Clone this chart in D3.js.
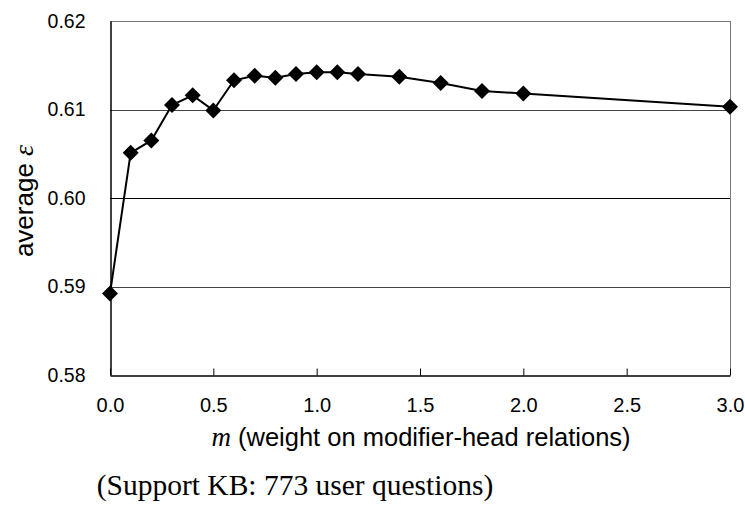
<!DOCTYPE html>
<html>
<head>
<meta charset="utf-8">
<script src="https://cdn.jsdelivr.net/npm/d3@7"></script>
<style>
  html, body { margin: 0; padding: 0; background: #fff; }
  svg { display: block; }
</style>
</head>
<body>
<script>
const mValues = [0.0, 0.1, 0.2, 0.3, 0.4, 0.5, 0.6, 0.7, 0.8, 0.9, 1.0, 1.1, 1.2, 1.4, 1.6, 1.8, 2.0, 3.0];
const avgEps  = [0.5892, 0.6051, 0.6065, 0.6105, 0.6116, 0.6099, 0.6133, 0.6138, 0.6136, 0.6140, 0.6142, 0.6142, 0.6140, 0.6137, 0.6130, 0.6121, 0.6118, 0.6103];
const xTicks = [0.0, 0.5, 1.0, 1.5, 2.0, 2.5, 3.0];
const yTicks = [0.58, 0.59, 0.60, 0.61, 0.62];

const W = 745, H = 508;
const L = 110, R = 730, T = 21, B = 375;

const svg = d3.select("body").append("svg").attr("width", W).attr("height", H);

const x = d3.scaleLinear().domain([0, 3]).range([L, R]);
const y = d3.scaleLinear().domain([0.58, 0.62]).range([B, T]);

// gridlines
svg.append("g").selectAll("line").data(yTicks.slice(1, 4)).join("line")
  .attr("x1", L).attr("x2", R)
  .attr("y1", d => Math.round(y(d)) + 0.5).attr("y2", d => Math.round(y(d)) + 0.5)
  .attr("stroke", d => Math.abs(d - 0.60) < 1e-9 ? "#000" : "#444").attr("stroke-width", 1);

// frame: top & right
svg.append("line").attr("x1", L).attr("x2", R).attr("y1", T + 0.5).attr("y2", T + 0.5).attr("stroke", "#777");
svg.append("line").attr("x1", R + 0.5).attr("x2", R + 0.5).attr("y1", T).attr("y2", B).attr("stroke", "#777");

// x axis
const xAxis = d3.axisBottom(x).tickValues(xTicks).tickSizeInner(-7).tickSizeOuter(0).tickFormat(d3.format(".1f")).tickPadding(22);
const gx = svg.append("g").attr("transform", `translate(0,${B + 0.5})`).call(xAxis);
gx.select(".domain").attr("stroke", "#000").attr("stroke-width", 1.5);
gx.selectAll(".tick line").attr("stroke", "#000");
gx.selectAll("text").attr("font-family", "Liberation Sans, Arial, sans-serif").attr("font-size", 20).attr("fill", "#000");

// y axis
const yAxis = d3.axisLeft(y).tickValues(yTicks).tickSize(0).tickFormat(d3.format(".2f")).tickPadding(25);
const gy = svg.append("g").attr("transform", `translate(${L + 0.5},0)`).call(yAxis);
gy.select(".domain").attr("stroke", "#000").attr("stroke-width", 1.5);
gy.selectAll("text").attr("font-family", "Liberation Sans, Arial, sans-serif").attr("font-size", 19.5).attr("fill", "#000");

// line
const pts = mValues.map((m, i) => [m, avgEps[i]]);
svg.append("path").datum(pts)
  .attr("d", d3.line().x(d => x(d[0])).y(d => y(d[1])))
  .attr("fill", "none").attr("stroke", "#000").attr("stroke-width", 2);

// diamond markers
const sym = d3.symbol().type(d3.symbolSquare).size(128);
svg.append("g").selectAll("path").data(pts).join("path")
  .attr("d", sym)
  .attr("transform", d => `translate(${x(d[0])},${y(d[1])}) rotate(45)`)
  .attr("fill", "#000");

// y label
const yl = svg.append("text")
  .attr("transform", `translate(33,${(T + B) / 2 + 3}) rotate(-90)`)
  .attr("text-anchor", "middle")
  .attr("font-family", "Liberation Sans, Arial, sans-serif").attr("font-size", 26).attr("fill", "#000");
yl.append("tspan").text("average ");
yl.append("tspan").attr("font-style", "italic").attr("font-family", "Liberation Serif, serif").attr("font-size", 28).text("ε");

// x label
const xl = svg.append("text")
  .attr("x", (L + R) / 2 + 1).attr("y", 446)
  .attr("text-anchor", "middle")
  .attr("font-family", "Liberation Sans, Arial, sans-serif").attr("font-size", 25.5).attr("fill", "#000");
xl.append("tspan").attr("font-style", "italic").attr("font-family", "Liberation Serif, serif").attr("font-size", 27).text("m");
xl.append("tspan").text("  (weight on modifier-head relations)");

// caption
svg.append("text")
  .attr("x", 295).attr("y", 495)
  .attr("text-anchor", "middle")
  .attr("font-family", "Liberation Serif, 'DejaVu Serif', serif").attr("font-size", 29.5).attr("fill", "#000")
  .text("(Support KB: 773 user questions)");
</script>
</body>
</html>
